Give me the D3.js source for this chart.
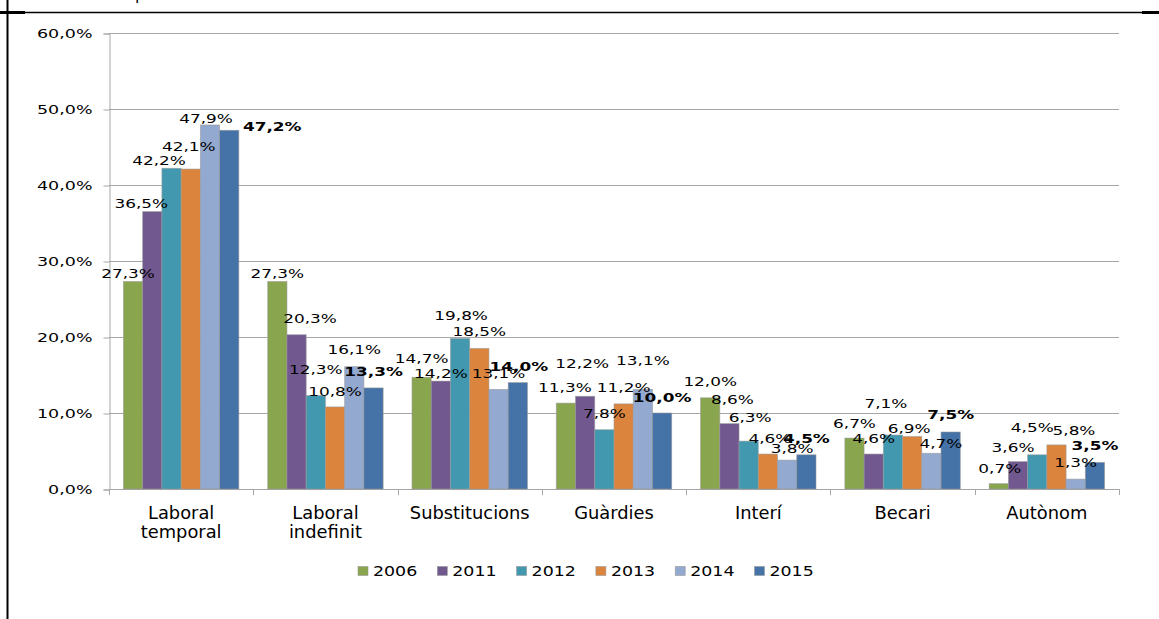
<!DOCTYPE html>
<html><head><meta charset="utf-8">
<script src="https://cdn.jsdelivr.net/npm/d3@7"></script>
<style>body{margin:0;background:#fff;overflow:hidden}</style>
</head><body><svg id="c" width="1159" height="619"></svg>
<script>
// ---- data ----
const categories = ["Laboral temporal", "Laboral indefinit", "Substitucions", "Guàrdies", "Interí", "Becari", "Autònom"];
const years = ["2006", "2011", "2012", "2013", "2014", "2015"];
const s2006 = [27.3, 27.3, 14.7, 11.3, 12.0, 6.7, 0.7];
const s2011 = [36.5, 20.3, 14.2, 12.2, 8.6, 4.6, 3.6];
const s2012 = [42.2, 12.3, 19.8, 7.8, 6.3, 7.1, 4.5];
const s2013 = [42.1, 10.8, 18.5, 11.2, 4.6, 6.9, 5.8];
const s2014 = [47.9, 16.1, 13.1, 13.1, 3.8, 4.7, 1.3];
const s2015 = [47.2, 13.3, 14.0, 10.0, 4.5, 7.5, 3.5];
const yTicks = [0, 10, 20, 30, 40, 50, 60];

// ---- layout / style (not data) ----
const colors = ["#89A54E", "#71588F", "#4198AF", "#DB843D", "#93A9CF", "#4572A7"];
// manual label nudges [dx, baseline lift above bar top] per series, per category
const labelNudge = [
  [[-5,3.5],[0,3.8],[0,14.6],[-1,11.5],[0,11.8],[0,9.8],[1,11]],
  [[-11,4],[13.4,12],[0,3.3],[-3,28.6],[3,20],[0,10.7],[-5,10]],
  [[-12.5,3.3],[0,21.5],[1,18.5],[0,12],[1.5,19.4],[-7,26.7],[-5,23]],
  [[-2,18.3],[0,11.3],[0,12.4],[0,12],[2,11.3],[-3,3.3],[17.5,10]],
  [[-4,2],[0,12.6],[0,11.7],[0,24],[5,6.8],[9.5,5],[0,11.8]],
  [[43,-0.7],[0,12],[1,12],[0,11.3],[0,12],[0,12.7],[0,12.4]]
];

const series = [s2006, s2011, s2012, s2013, s2014, s2015];
const svg = d3.select("#c");
const FONT = "'DejaVu Sans', Verdana, sans-serif";

const x0 = d3.scaleBand().domain(categories).range([109, 1119]).paddingInner(0.2).paddingOuter(0.1);
const x1 = d3.scaleBand().domain(years).range([0, x0.bandwidth()]);
const y = d3.scaleLinear().domain([0, 60]).range([489, 33]);

const fmt = v => d3.format(".1f")(v).replace(".", ",") + "%";

function stext(parent, x, yy, str, size, sx, anchor, weight) {
  return parent.append("text")
    .attr("transform", `translate(${x},${yy}) scale(${sx},1)`)
    .attr("text-anchor", anchor)
    .attr("font-family", FONT)
    .attr("font-size", size)
    .attr("font-weight", weight || "normal")
    .attr("fill", "#000")
    .text(str);
}

// frame
svg.append("line").attr("x1", 7.5).attr("x2", 7.5).attr("y1", 0).attr("y2", 619).attr("stroke", "#000").attr("stroke-width", 2);
svg.append("line").attr("x1", 7).attr("x2", 1159).attr("y1", 12.5).attr("y2", 12.5).attr("stroke", "#000").attr("stroke-width", 1.5);
svg.append("rect").attr("x", 0).attr("y", 11).attr("width", 25).attr("height", 3).attr("fill", "#000");
svg.append("rect").attr("x", 1142).attr("y", 11).attr("width", 17).attr("height", 3).attr("fill", "#000");
// clipped title remnant
svg.append("text").attr("x", 135).attr("y", 0).attr("font-family", FONT).attr("font-size", 16).attr("fill", "#000").text("p");

// gridlines
svg.append("g").selectAll("line").data(yTicks.filter(t => t > 0)).join("line")
  .attr("x1", 109).attr("x2", 1119)
  .attr("y1", d => Math.round(y(d)) + 0.5).attr("y2", d => Math.round(y(d)) + 0.5)
  .attr("stroke", "#a6a6a6").attr("stroke-width", 1);

// y axis
const yAxis = svg.append("g").attr("transform", "translate(109.5,0.5)")
  .call(d3.axisLeft(y).tickValues(yTicks).tickSize(6).tickPadding(11).tickFormat(fmt));
yAxis.select(".domain").attr("stroke", "#a6a6a6");
yAxis.selectAll(".tick line").attr("stroke", "#a6a6a6");
yAxis.selectAll(".tick text")
  .attr("font-family", FONT).attr("font-size", 12.5).attr("fill", "#000")
  .attr("x", -17 / 1.4).attr("transform", "scale(1.4,1)");

// x axis
const boundaries = categories.map(c => x0(c) - (x0.step() - x0.bandwidth()) / 2).concat([1119]);
svg.append("line").attr("x1", 109).attr("x2", 1119).attr("y1", 489.5).attr("y2", 489.5).attr("stroke", "#a6a6a6");
svg.append("g").selectAll("line").data(boundaries).join("line")
  .attr("x1", d => Math.round(d) + 0.5).attr("x2", d => Math.round(d) + 0.5)
  .attr("y1", 489).attr("y2", 495).attr("stroke", "#a6a6a6");

// bars
const gBars = svg.append("g");
series.forEach((vals, si) => {
  gBars.append("g").selectAll("rect").data(vals).join("rect")
    .attr("x", (d, i) => x0(categories[i]) + x1(years[si]))
    .attr("width", x1.bandwidth())
    .attr("y", d => y(d))
    .attr("height", d => y(0) - y(d))
    .attr("fill", colors[si])
    .attr("stroke", "#9a9a9a").attr("stroke-opacity", 0.7).attr("stroke-width", 0.8);
});

// data labels
const gLab = svg.append("g");
series.forEach((vals, si) => {
  vals.forEach((v, i) => {
    const [dx, lift] = labelNudge[si][i];
    const cx = x0(categories[i]) + x1(years[si]) + x1.bandwidth() / 2 + dx;
    stext(gLab, cx, y(v) - lift, fmt(v), 13, 1.3, "middle", si === 5 ? "bold" : "normal");
  });
});

// category labels
categories.forEach(c => {
  const cx = x0(c) + x0.bandwidth() / 2;
  const parts = c.split(" ");
  parts.forEach((p, k) => stext(svg, cx, 519 + k * 19, p, 17, 1.05, "middle"));
});

// legend
const legStart = 358, legStep = 79.3;
years.forEach((yr, i) => {
  const lx = legStart + i * legStep;
  svg.append("rect").attr("x", lx).attr("y", 566.5).attr("width", 10).attr("height", 9)
    .attr("fill", colors[i]).attr("stroke", "#9a9a9a").attr("stroke-width", 0.6);
  stext(svg, lx + 15, 576, yr, 14.5, 1.2, "start");
});
</script>
</body></html>
